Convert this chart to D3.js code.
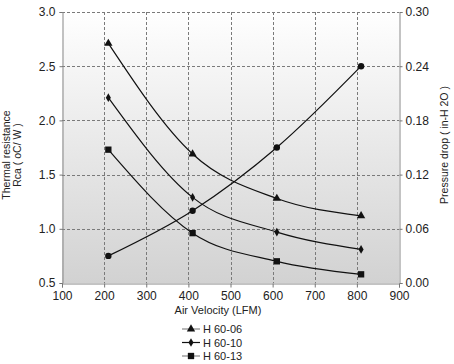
<!DOCTYPE html>
<html><head><meta charset="utf-8">
<script src="https://cdn.jsdelivr.net/npm/d3@7"></script>
<style>body{margin:0;background:#fff}svg{display:block}text{font-family:"Liberation Sans",Arial,sans-serif;fill:#222}</style>
</head><body><svg id="c" width="454" height="364"></svg>
<script>
const velocity = [210, 410, 610, 810];
const h6006 = [2.71, 1.69, 1.28, 1.12];
const h6010 = [2.21, 1.29, 0.97, 0.81];
const h6013 = [1.73, 0.96, 0.70, 0.58];
const pressure = [0.030, 0.080, 0.150, 0.240];
const xTicks = [100, 200, 300, 400, 500, 600, 700, 800, 900];
const yTicks = [0.5, 1.0, 1.5, 2.0, 2.5, 3.0];
const y2Ticks = [0.00, 0.06, 0.12, 0.18, 0.24, 0.30];
const seriesNames = ["H 60-06", "H 60-10", "H 60-13"];

const svg = d3.select("#c");
const L = 62, R = 399, T = 12, B = 283;
const x = d3.scaleLinear().domain([100, 900]).range([L, R]);
const y = d3.scaleLinear().domain([0.5, 3.0]).range([B, T]);
const y2 = d3.scaleLinear().domain([0, 0.30]).range([B, T]);

const defs = svg.append("defs");
const g = defs.append("linearGradient").attr("id", "bg").attr("x1", 0).attr("y1", 0).attr("x2", 0).attr("y2", 1);
g.append("stop").attr("offset", "0").attr("stop-color", "#ffffff");
g.append("stop").attr("offset", "0.08").attr("stop-color", "#fbfbfb");
g.append("stop").attr("offset", "1").attr("stop-color", "#d2d2d2");
svg.append("rect").attr("x", L).attr("y", T).attr("width", R - L).attr("height", B - T).attr("fill", "url(#bg)");

// grid
const grid = svg.append("g").attr("stroke", "#7a7a7a").attr("stroke-width", 1).attr("stroke-dasharray", "3,2");
grid.selectAll(".gx").data(xTicks.slice(1, -1)).join("line")
  .attr("x1", d => Math.round(x(d)) + 0.5).attr("x2", d => Math.round(x(d)) + 0.5).attr("y1", T).attr("y2", B);
grid.selectAll(".gy").data(yTicks.slice(1)).join("line")
  .attr("y1", d => Math.round(y(d)) + 0.5).attr("y2", d => Math.round(y(d)) + 0.5).attr("x1", L).attr("x2", R);

// axes
const fmt1 = d3.format(".1f"), fmt2 = d3.format(".2f");
const ax = svg.append("g").attr("transform", `translate(0,${B + 0.5})`)
  .call(d3.axisBottom(x).tickValues(xTicks).tickSize(4).tickPadding(4).tickFormat(d3.format("d")));
const ayl = svg.append("g").attr("transform", `translate(${L + 0.5},0)`)
  .call(d3.axisLeft(y).tickValues(yTicks).tickSize(3).tickPadding(4).tickFormat(fmt1));
const ayr = svg.append("g").attr("transform", `translate(${R + 0.5},0)`)
  .call(d3.axisRight(y2).tickValues(y2Ticks).tickSize(3).tickPadding(3).tickFormat(fmt2));
[ax, ayl, ayr].forEach(a => {
  a.selectAll("path,line").attr("stroke", "#777");
  a.select(".domain").attr("stroke", "#888");
  a.selectAll("text").attr("font-size", 12).attr("fill", "#222").style("font-family", "Liberation Sans, Arial, sans-serif");
});

// lines
const line = d3.line().x(d => x(d[0])).y(d => y(d[1])).curve(d3.curveMonotoneX);
const line2 = d3.line().x(d => x(d[0])).y(d => y2(d[1])).curve(d3.curveMonotoneX);
const zip = arr => velocity.map((v, i) => [v, arr[i]]);
const plot = svg.append("g");
[h6006, h6010, h6013].forEach(s => {
  plot.append("path").attr("d", line(zip(s))).attr("fill", "none").attr("stroke", "#111").attr("stroke-width", 1.2);
});
plot.append("path").attr("d", line2(zip(pressure))).attr("fill", "none").attr("stroke", "#111").attr("stroke-width", 1.2);

const sym = {
  tri: d3.symbol().type(d3.symbolTriangle).size(30),
  dia: d3.symbol().type(d3.symbolDiamond).size(22),
  sq: d3.symbol().type(d3.symbolSquare).size(40),
  cir: d3.symbol().type(d3.symbolCircle).size(32)
};
function marks(data, scale, s) {
  plot.selectAll(null).data(zip(data)).join("path")
    .attr("transform", d => `translate(${x(d[0])},${scale(d[1])})`).attr("d", s()).attr("fill", "#111");
}
marks(h6006, y, sym.tri);
marks(h6010, y, sym.dia);
marks(h6013, y, sym.sq);
marks(pressure, y2, sym.cir);

// axis titles
svg.append("text").attr("x", 218).attr("y", 314).attr("text-anchor", "middle").attr("font-size", 11).text("Air Velocity (LFM)");
svg.append("text").attr("transform", "translate(10,155) rotate(-90)").attr("text-anchor", "middle").attr("font-size", 10.5).text("Thermal resistance");
svg.append("text").attr("transform", "translate(21,155) rotate(-90)").attr("text-anchor", "middle").attr("font-size", 10.5).text("Rca  ( oC/ W )");
svg.append("text").attr("transform", "translate(448,145) rotate(-90)").attr("text-anchor", "middle").attr("font-size", 10.5).text("Pressure drop   ( in-H 2O )");

// legend
const legSym = [sym.tri, sym.dia, sym.sq];
const legStroke = ["#888", "#111", "#888"];
const lg = svg.selectAll(".leg").data(seriesNames).join("g").attr("transform", (d, i) => `translate(182,${329 + i * 13.5})`);
lg.append("line").attr("x1", 0).attr("x2", 18).attr("stroke", (d, i) => legStroke[i]).attr("stroke-width", 1.2);
lg.append("path").attr("transform", "translate(9,0)").attr("d", (d, i) => legSym[i]()).attr("fill", "#111");
lg.append("text").attr("x", 21).attr("y", 4).attr("font-size", 11).text(d => d);
</script></body></html>
